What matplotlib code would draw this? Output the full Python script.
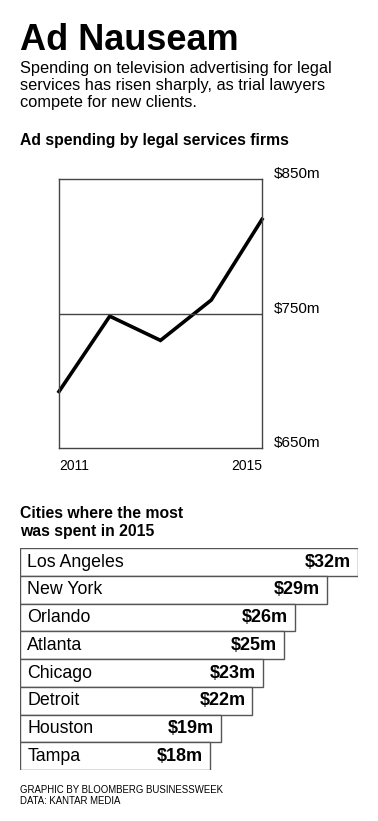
"""
Ad Nauseam -- TV ad spending by legal services firms (Bloomberg Businessweek style).
"""
import matplotlib
matplotlib.use("Agg")
import matplotlib.pyplot as plt

# yearly spending, $m
years = [2011, 2012, 2013, 2014, 2015]
spending = [692, 748, 730, 760, 820]
y_ticks = [650, 750, 850]

# top cities, 2015
cities = ["Los Angeles", "New York", "Orlando", "Atlanta",
          "Chicago", "Detroit", "Houston", "Tampa"]
city_spend = [32, 29, 26, 25, 23, 22, 19, 18]

W, H = 378, 821
FONT = "Liberation Sans"
plt.rcParams["font.family"] = [FONT, "DejaVu Sans"]

fig = plt.figure(figsize=(W / 100, H / 100), dpi=100)


def px_axes(left, top, right, bottom):
    return fig.add_axes([left / W, 1 - bottom / H, (right - left) / W, (bottom - top) / H])


def px_text(x, y, s, **kw):
    fig.text(x / W, 1 - y / H, s, **kw)


# header
px_text(20, 49.5, "Ad Nauseam", fontsize=26, fontweight="bold", va="baseline")
sub = ["Spending on television advertising for legal",
       "services has risen sharply, as trial lawyers",
       "compete for new clients."]
for i, line in enumerate(sub):
    px_text(20, 72.5 + i * 17.5, line, fontsize=11.8, va="baseline")
px_text(20, 145.5, "Ad spending by legal services firms", fontsize=11.3,
        fontweight="bold", va="baseline")

# line chart
ax = px_axes(59, 179, 262, 448)
ax.plot(years, spending, color="black", lw=2.6, solid_joinstyle="miter", clip_on=False)
ax.axhline(750, color="#444444", lw=1)
ax.set_xlim(years[0], years[-1])
ax.set_ylim(y_ticks[0], y_ticks[-1])
ax.set_xticks([])
ax.set_yticks([])
for s in ax.spines.values():
    s.set_color("#444444")
    s.set_linewidth(1)
for v in y_ticks:
    ax.annotate(f"${v}m", (1, v), xycoords=("axes fraction", "data"),
                xytext=(8.5, 3.5), textcoords="offset points",
                fontsize=11, va="center", ha="left", annotation_clip=False)
ax.annotate(str(years[0]), (0, 0), xycoords="axes fraction", xytext=(0, -13),
            textcoords="offset points", fontsize=10, ha="left", va="center")
ax.annotate(str(years[-1]), (1, 0), xycoords="axes fraction", xytext=(0, -13),
            textcoords="offset points", fontsize=10, ha="right", va="center")

# cities
px_text(20, 518, "Cities where the most", fontsize=11.3, fontweight="bold", va="baseline")
px_text(20, 536, "was spent in 2015", fontsize=11.3, fontweight="bold", va="baseline")

bx = px_axes(19.7, 548.3, 358.3, 770)
pos = list(range(len(cities)))
bx.barh(pos, city_spend, height=1, left=0, color="white",
        edgecolor="#555555", linewidth=1)
bx.set_xlim(0, max(city_spend))
bx.set_ylim(len(cities) - 0.5, -0.5)
bx.axis("off")
for p, c, v in zip(pos, cities, city_spend):
    bx.annotate(c, (0, p), xytext=(5.5, 0), textcoords="offset points",
                fontsize=12.8, va="center", ha="left")
    bx.annotate(f"${v}m", (v, p), xytext=(-5, 0), textcoords="offset points",
                fontsize=13, fontweight="bold", va="center", ha="right")

# footer
px_text(20, 793, "GRAPHIC BY BLOOMBERG BUSINESSWEEK", fontsize=6.9, va="baseline")
px_text(20, 804, "DATA: KANTAR MEDIA", fontsize=6.9, va="baseline")

fig.savefig("out.png", dpi=100)
